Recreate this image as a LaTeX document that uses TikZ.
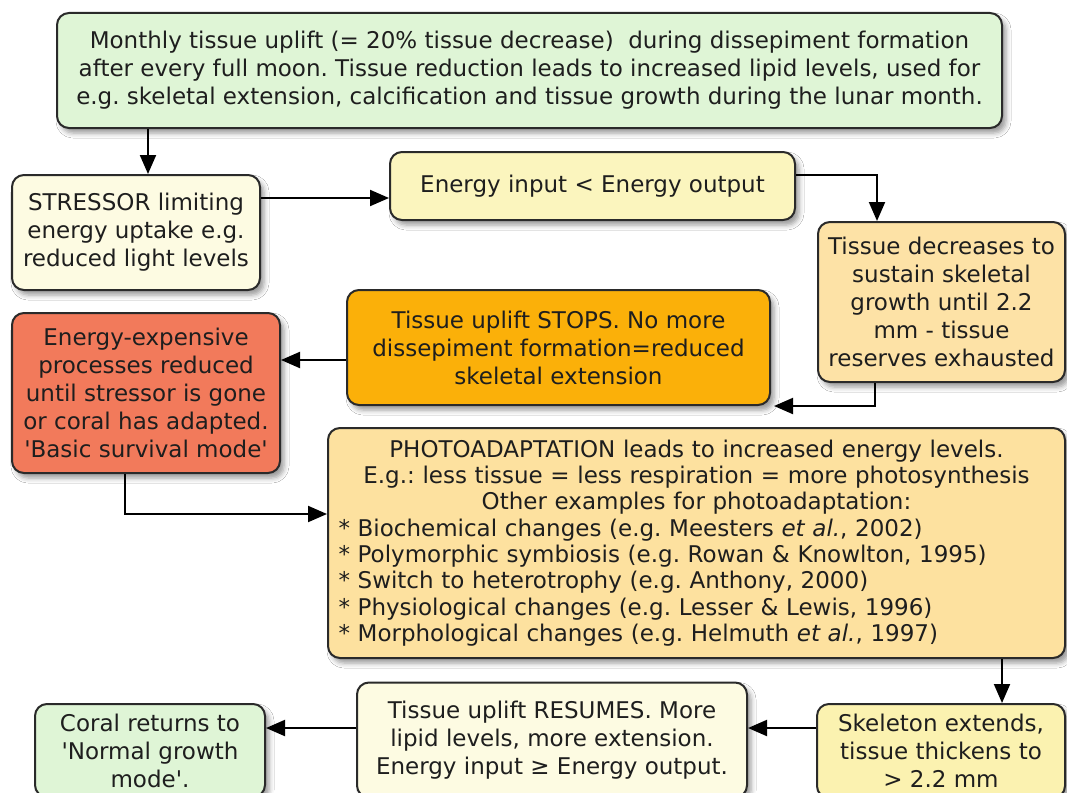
\documentclass[tikz,border=0pt]{standalone}
\usepackage{fontspec}
\newfontfamily\boxfont{DejaVu Sans}[ItalicFont={DejaVu Sans Oblique}]
\usetikzlibrary{arrows.meta,shadows.blur}
\frenchspacing

\definecolor{ink}{HTML}{1E1E1E}
\definecolor{edge}{HTML}{2A2A2A}
\definecolor{mint}{HTML}{DFF5D6}
\definecolor{cream}{HTML}{FDFBE2}
\definecolor{lemon}{HTML}{FBF5BE}
\definecolor{peach}{HTML}{FDE2A6}
\definecolor{amber}{HTML}{FBB009}
\definecolor{salmon}{HTML}{F27A5B}
\definecolor{sand}{HTML}{FDE19F}
\definecolor{straw}{HTML}{FBF2B0}

\begin{document}
\begin{tikzpicture}[x=1pt,y=-1pt,
  box/.style={draw=edge, line width=2pt, rounded corners=12pt, align=center,
    inner sep=0pt, text=ink, font={\boxfont\fontsize{23}{28}\selectfont},
    blur shadow={shadow xshift=4pt, shadow yshift=-5pt, shadow blur radius=5pt, shadow opacity=40}},
  arr/.style={draw=black, line width=2pt, -{Triangle[length=19pt,width=16pt]}}]

\useasboundingbox (0,0) rectangle (1067,792);
\clip (0,0) rectangle (1067,792);
\fill[white] (0,0) rectangle (1067,792);

% boxes
\node[box, fill=mint, minimum width=945pt, minimum height=115pt] (top) at (529.5,70.5)
  {Monthly tissue uplift (= 20\% tissue decrease)\ \ during dissepiment formation\\
   after every full moon. Tissue reduction leads to increased lipid levels, used for\\
   e.g. skeletal extension, calcification and tissue growth during the lunar month.};

\node[box, fill=cream, minimum width=248pt, minimum height=115pt] (stressor) at (136,232.5)
  {STRESSOR limiting\\energy uptake e.g.\\reduced light levels};

\node[box, fill=lemon, minimum width=405pt, minimum height=68pt] (energy) at (592.5,186)
  {Energy input < Energy output};

\node[box, fill=peach, minimum width=247pt, minimum height=160pt] (tissuedec) at (941.5,302)
  {Tissue decreases to\\sustain skeletal\\growth until 2.2\\mm - tissue\\reserves exhausted};

\node[box, fill=amber, minimum width=423pt, minimum height=115pt] (stops) at (558.5,347.5)
  {Tissue uplift STOPS. No more\\dissepiment formation=reduced\\skeletal extension};

\node[box, fill=salmon, minimum width=268pt, minimum height=160pt] (energyexp) at (146,393)
  {Energy-expensive\\processes reduced\\until stressor is gone\\or coral has adapted.\\'Basic survival mode'};

\node[box, fill=sand, minimum width=737pt, minimum height=230pt, text width=716pt,
  font={\boxfont\fontsize{23}{26.3}\selectfont}] (photo) at (696.5,543)
  {PHOTOADAPTATION leads to increased energy levels.\\
   E.g.: less tissue = less respiration = more photosynthesis\\
   Other examples for photoadaptation:\\
   \makebox[\linewidth][l]{* Biochemical changes (e.g. Meesters \textit{et al.}, 2002)}\\
   \makebox[\linewidth][l]{* Polymorphic symbiosis (e.g. Rowan \& Knowlton, 1995)}\\
   \makebox[\linewidth][l]{* Switch to heterotrophy (e.g. Anthony, 2000)}\\
   \makebox[\linewidth][l]{* Physiological changes (e.g. Lesser \& Lewis, 1996)}\\
   \makebox[\linewidth][l]{* Morphological changes (e.g. Helmuth \textit{et al.}, 1997)}};

\node[box, fill=straw, minimum width=248pt, minimum height=94pt] (skeleton) at (941,751)
  {Skeleton extends,\\tissue thickens to\\> 2.2 mm};

\node[box, fill=cream, minimum width=390pt, minimum height=115pt] (resumes) at (552,740)
  {Tissue uplift RESUMES. More\\lipid levels, more extension.\\Energy input ≥ Energy output.};

\node[box, fill=mint, minimum width=230pt, minimum height=93pt] (coral) at (150,750.5)
  {Coral returns to\\'Normal growth\\mode'.};

% connectors
\draw[arr] (top.south -| 148,0) -- (stressor.north -| 148,0);
\draw[arr] (stressor.east |- 0,198) -- (energy.west |- 0,198);
\draw[arr] (energy.east |- 0,175) -| (tissuedec.north -| 877,0);
\draw[arr] (tissuedec.south -| 875,0) |- ([xshift=3pt]stops.south east);
\draw[arr] (stops.west |- 0,360) -- (energyexp.east |- 0,360);
\draw[arr] (energyexp.south -| 125,0) |- (photo.west |- 0,514);
\draw[arr] (photo.south -| 1002,0) -- (skeleton.north -| 1002,0);
\draw[arr] (skeleton.west |- 0,728) -- (resumes.east |- 0,728);
\draw[arr] (resumes.west |- 0,728) -- (coral.east |- 0,728);
\end{tikzpicture}
\end{document}
